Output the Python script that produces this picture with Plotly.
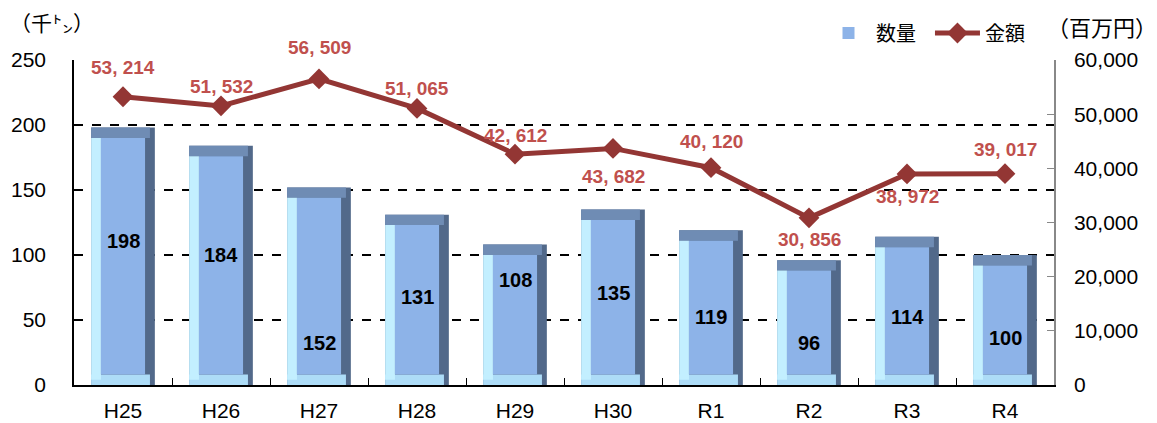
import plotly.graph_objects as go

categories = ["H25", "H26", "H27", "H28", "H29", "H30", "R1", "R2", "R3", "R4"]
quantity = [198, 184, 152, 131, 108, 135, 119, 96, 114, 100]          # 千トン
amount = [53214, 51532, 56509, 51065, 42612, 43682, 40120, 30856, 38972, 39017]  # 百万円

# label placement (layout, not data)
qty_label_y = [111, 100, 32, 68, 81, 71, 52, 32, 52, 36]
amt_label_shift = [29, 19, 31, 20, 19, -28, 26, -22, -23, 24]

BW = 0.65      # bar width in category units
SIDE = 0.10    # bevel width in category units
CAP = 8        # bevel height in data units

BOLD = "Liberation Sans, Arial, sans-serif"
SANS = "Liberation Sans, Arial, sans-serif"
JP = "Noto Sans CJK JP, sans-serif"

L, R, T, B = 74, 103, 60, 38
W, H = 1157, 423
pw, ph = W - L - R, H - T - B

fig = go.Figure()

common = dict(x=categories, hoverinfo="skip", showlegend=False, marker_line_width=0)
# right (dark) face = full bar
fig.add_trace(go.Bar(y=quantity, width=BW, offset=-BW / 2, marker_color="#52698A", **common))
# top face
fig.add_trace(go.Bar(y=[CAP] * len(quantity), base=[v - CAP for v in quantity],
                     width=BW - SIDE * 0.5, offset=-BW / 2, marker_color="#6F8CB4", **common))
# bottom face
fig.add_trace(go.Bar(y=[CAP] * len(quantity), base=[0] * len(quantity),
                     width=BW - SIDE * 0.5, offset=-BW / 2, marker_color="#ADDCF7", **common))
# left face
fig.add_trace(go.Bar(y=[v - CAP * 1.5 for v in quantity], base=[CAP * 0.5] * len(quantity),
                     width=SIDE, offset=-BW / 2, marker_color="#C3EFFF", **common))
# front face
fig.add_trace(go.Bar(x=categories, y=[v - 2 * CAP for v in quantity], base=[CAP] * len(quantity),
                     width=BW - 2 * SIDE, offset=-BW / 2 + SIDE, marker_color="#8DB3E8",
                     marker_line_width=0, name="数量  ", hoverinfo="skip", showlegend=True))

fig.add_trace(go.Scatter(x=categories, y=amount, yaxis="y2", mode="lines+markers", name="金額",
                         line=dict(color="#933634", width=5),
                         marker=dict(symbol="diamond", size=16, color="#933634"),
                         hoverinfo="skip"))

annotations = []
for c, v, ly in zip(categories, quantity, qty_label_y):
    annotations.append(dict(x=c, y=ly, xref="x", yref="y", text=f"<b>{v}</b>", showarrow=False,
                            font=dict(family=BOLD, size=20, color="#000000")))
for c, v, sh in zip(categories, amount, amt_label_shift):
    txt = f"{v:,}".replace(",", ", ")
    annotations.append(dict(x=c, y=v, xref="x", yref="y2", text=f"<b>{txt}</b>", showarrow=False,
                            yshift=sh, font=dict(family=BOLD, size=19, color="#C0504D")))
annotations.append(dict(x=(8 - L) / pw, y=(H - B - 22) / ph, xref="paper", yref="paper",
                        text="（千㌧）", showarrow=False, xanchor="left", yanchor="middle",
                        font=dict(family=JP, size=21, color="#000")))
annotations.append(dict(x=(1102 - L) / pw, y=(H - B - 26) / ph, xref="paper", yref="paper",
                        text="（百万円）", showarrow=False, xanchor="center", yanchor="middle",
                        font=dict(family=JP, size=22, color="#000")))

fig.update_layout(
    width=W, height=H,
    margin=dict(l=L, r=R, t=T, b=B, autoexpand=False),
    barmode="overlay",
    plot_bgcolor="white", paper_bgcolor="white",
    xaxis=dict(type="category", showline=True, linecolor="#000", linewidth=1.5,
               ticks="inside", tickson="boundaries", ticklen=7, tickcolor="#000",
               tickfont=dict(family=SANS, size=21, color="#000"), ticklabelstandoff=6,
               showgrid=False, range=[-0.5, 9.5], automargin=False),
    yaxis=dict(range=[0, 250], dtick=50, showline=True, linecolor="#000", linewidth=1.5,
               ticks="", showgrid=True, gridcolor="#000", griddash="dash", gridwidth=1.5,
               zeroline=False, tickfont=dict(family=SANS, size=21, color="#000"),
               ticklabelstandoff=22, automargin=False),
    yaxis2=dict(range=[0, 60000], dtick=10000, overlaying="y", side="right", tickformat=",",
                showline=True, linecolor="#888", linewidth=1.5, ticks="inside", ticklen=7,
                tickcolor="#888", showgrid=False, zeroline=False,
                tickfont=dict(family=SANS, size=21, color="#000"), ticklabelstandoff=14,
                automargin=False),
    legend=dict(orientation="h", x=(1030 - L) / pw, xanchor="right", y=(H - B - 33) / ph,
                yanchor="middle", font=dict(family=JP, size=20, color="#000"),
                bgcolor="rgba(0,0,0,0)", itemwidth=45, traceorder="normal"),
    annotations=annotations,
)

fig.write_html("out.html", config={"displayModeBar": False},
               post_script="document.body.style.margin='0';document.body.style.overflow='hidden';")
